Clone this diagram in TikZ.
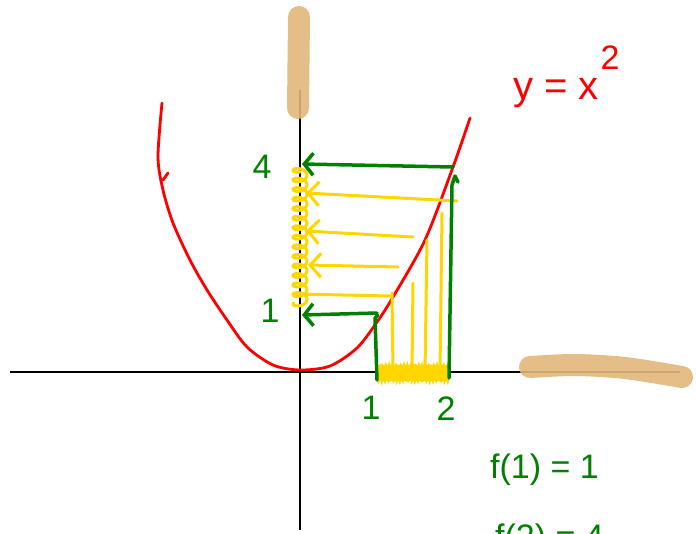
\documentclass[tikz,border=0pt]{standalone}
\usepackage{fontspec}
\setmainfont{Liberation Sans}
\usetikzlibrary{arrows.meta}
\definecolor{penred}{RGB}{255,0,0}
\definecolor{pengreen}{RGB}{0,128,0}
\definecolor{penyellow}{RGB}{255,214,0}
\definecolor{tanhl}{RGB}{225,182,122}

\begin{document}
\begin{tikzpicture}[x=1pt,y=-1pt,
			axis/.style={draw=black,line width=2.2pt},
			marker/.style={draw=tanhl,line width=22pt,line cap=round,opacity=0.9},
			curve/.style={draw=penred,line width=2.8pt,line cap=round},
			grn/.style={draw=pengreen,line width=3.5pt,line cap=round,line join=round},
			garr/.style={grn,-{Straight Barb[length=9pt,width=22pt]}},
			ylw/.style={draw=penyellow,line width=3pt,line cap=round},
			yarr/.style={ylw,-{Straight Barb[length=11pt,width=24pt]}},
			lbl/.style={text=pengreen,font=\fontsize{34}{40}\selectfont,inner sep=0pt}
			]
			\useasboundingbox (0,0) rectangle (696,533);
			\clip (0,0) rectangle (696,533);
			% axes
			\draw[axis] (10,372) -- (680,372);
			\draw[axis] (300,530) -- (300,90);
			% highlighter marks on the axes
			\draw[marker] (299,17) -- (298,108);
			\draw[marker] plot[smooth] coordinates {(530,367) (575,365) (625,368) (682,377)};
			% parabola
			\draw[curve] plot[smooth] coordinates {(162,103) (158,157) (163,190) (173,223) (190,260) (207,290) (227,320) (247,347) (273,365) (300,370) (330,366) (357,348) (377,322) (393,297) (425,240) (453,167) (470,118)};
			\draw[curve] (163,180) -- (168,173);
			\node[text=penred,font=\fontsize{40}{46}\selectfont,inner sep=0pt] (eq) at (556,93) {y = x};
			\node[text=penred,font=\fontsize{34}{40}\selectfont,inner sep=0pt] (sq) at (610,58) {2};
			% yellow: images of the interval
			\draw[ylw] plot[domain=0:90,samples=500,smooth] ({300-7*sin(\x r)},{168+1.52*\x+4*cos(\x r)});
			\draw[ylw] plot[domain=0:70,samples=300] ({378+\x},{373+7*sin(\x*120)});
			\draw[ylw] (393,372) -- (392,293);
			\draw[ylw] (412,372) -- (413,283);
			\draw[ylw] (425,372) -- (427,240);
			\draw[ylw] (440,372) -- (442,213);
			\draw[yarr] (457,201) -- (306,193);
			\draw[yarr] (413,237) -- (306,231);
			\draw[yarr] (398,267) -- (308,265);
			\draw[ylw] (390,296) -- (296,294);
			% green: interval and its image
			\draw[grn] (377,380) -- (375,318) -- (378,315);
			\draw[grn] (449,378) -- (452,185) -- (455,176) -- (458,182);
			\draw[garr] (453,167) -- (302,164);
			\draw[garr] (377,313) -- (302,315);
			\node[lbl] (four) at (262,167) {4};
			\node[lbl] (one) at (270,311) {1};
			\node[lbl] (xone) at (371,408) {1};
			\node[lbl] (xtwo) at (446,409) {2};
			\node[lbl,anchor=west] (fone) at (490,470) {f(1) = 1};
			\node[lbl,anchor=west] (ftwo) at (495,540) {f(2) = 4};
		\end{tikzpicture}
\end{document}
